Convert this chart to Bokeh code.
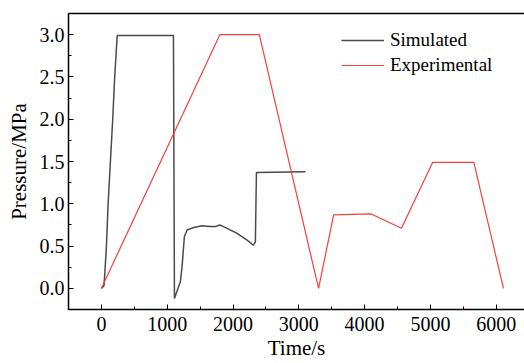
from bokeh.plotting import figure
from bokeh.models import (Range1d, LinearAxis, FixedTicker, Legend, LegendItem,
                          Title, NumeralTickFormatter)
from bokeh.embed import file_html
from bokeh.resources import INLINE

# ---- data ----
sim_t = [0, 40, 76, 102, 137, 172, 202, 240, 1095, 1110, 1201, 1226, 1261, 1302,
         1403, 1530, 1650, 1733, 1799, 1910, 2062, 2214, 2310, 2340, 2356, 2362, 3100]
sim_p = [0.0, 0.03, 0.49, 1.0, 1.5, 2.0, 2.5, 2.99, 2.99, -0.12, 0.08, 0.26, 0.61, 0.69,
         0.72, 0.74, 0.73, 0.73, 0.75, 0.71, 0.65, 0.57, 0.51, 0.55, 1.37, 1.37, 1.38]

exp_t = [0, 1800, 2400, 3300, 3530, 4100, 4560, 5035, 5660, 6110]
exp_p = [0.0, 3.0, 3.0, 0.0, 0.87, 0.88, 0.71, 1.49, 1.49, 0.0]

x_ticks = [0, 1000, 2000, 3000, 4000, 5000, 6000]
y_ticks = [0.0, 0.5, 1.0, 1.5, 2.0, 2.5, 3.0]

FONT = "Liberation Serif"

p = figure(width=524, height=363, output_backend="svg", toolbar_location=None,
           x_range=Range1d(-500, 6430), y_range=Range1d(-0.25, 3.25),
           min_border_left=68, min_border_right=0, min_border_top=13, min_border_bottom=54)
p.outline_line_color = None
p.xgrid.visible = False
p.ygrid.visible = False
p.background_fill_color = "white"
p.border_fill_color = "white"

r_sim = p.line(sim_t, sim_p, line_color="#4a4a4a", line_width=1.5)
r_exp = p.line(exp_t, exp_p, line_color="#f5413a", line_width=1.2)

for ax in (p.xaxis[0], p.yaxis[0]):
    ax.axis_line_color = "black"
    ax.axis_line_width = 1.5
    ax.major_tick_in = 5
    ax.major_tick_out = 0
    ax.minor_tick_in = 3
    ax.minor_tick_out = 0
    ax.major_tick_line_color = "black"
    ax.minor_tick_line_color = "black"
    ax.major_label_text_font = FONT
    ax.major_label_text_font_size = "20px"
    ax.major_label_text_color = "black"
    ax.axis_label_text_font = FONT
    ax.axis_label_text_font_size = "21px"
    ax.axis_label_text_font_style = "normal"
    ax.axis_label_text_color = "black"

p.xaxis[0].ticker = FixedTicker(ticks=x_ticks, minor_ticks=[-500 + 500 * i for i in range(14)])
p.yaxis[0].ticker = FixedTicker(ticks=y_ticks, minor_ticks=[-0.25 + 0.25 * i for i in range(15)])
p.yaxis[0].formatter = NumeralTickFormatter(format="0.0")
p.xaxis[0].major_label_standoff = 7
p.yaxis[0].major_label_standoff = 4
p.yaxis[0].axis_label = "Pressure/MPa"
p.yaxis[0].axis_label_standoff = 6

top = LinearAxis(ticker=FixedTicker(ticks=[]), axis_line_color="black", axis_line_width=1.5,
                 major_tick_in=0, major_tick_out=0, minor_tick_in=0, minor_tick_out=0)
p.add_layout(top, "above")

p.add_layout(Title(text="Time/s", align="center", offset=-17, text_font=FONT,
                   text_font_size="21px", text_font_style="normal", text_color="black",
                   standoff=0), "below")

legend = Legend(items=[LegendItem(label="Simulated", renderers=[r_sim]),
                       LegendItem(label="Experimental", renderers=[r_exp])],
                location=(273, 233), glyph_width=43, glyph_height=20, label_height=20,
                label_standoff=6, spacing=3, padding=0, margin=0,
                border_line_color=None, background_fill_alpha=0,
                label_text_font=FONT, label_text_font_size="19px", label_text_color="black")
p.add_layout(legend)

open("out.html", "w").write(file_html(p, INLINE))
